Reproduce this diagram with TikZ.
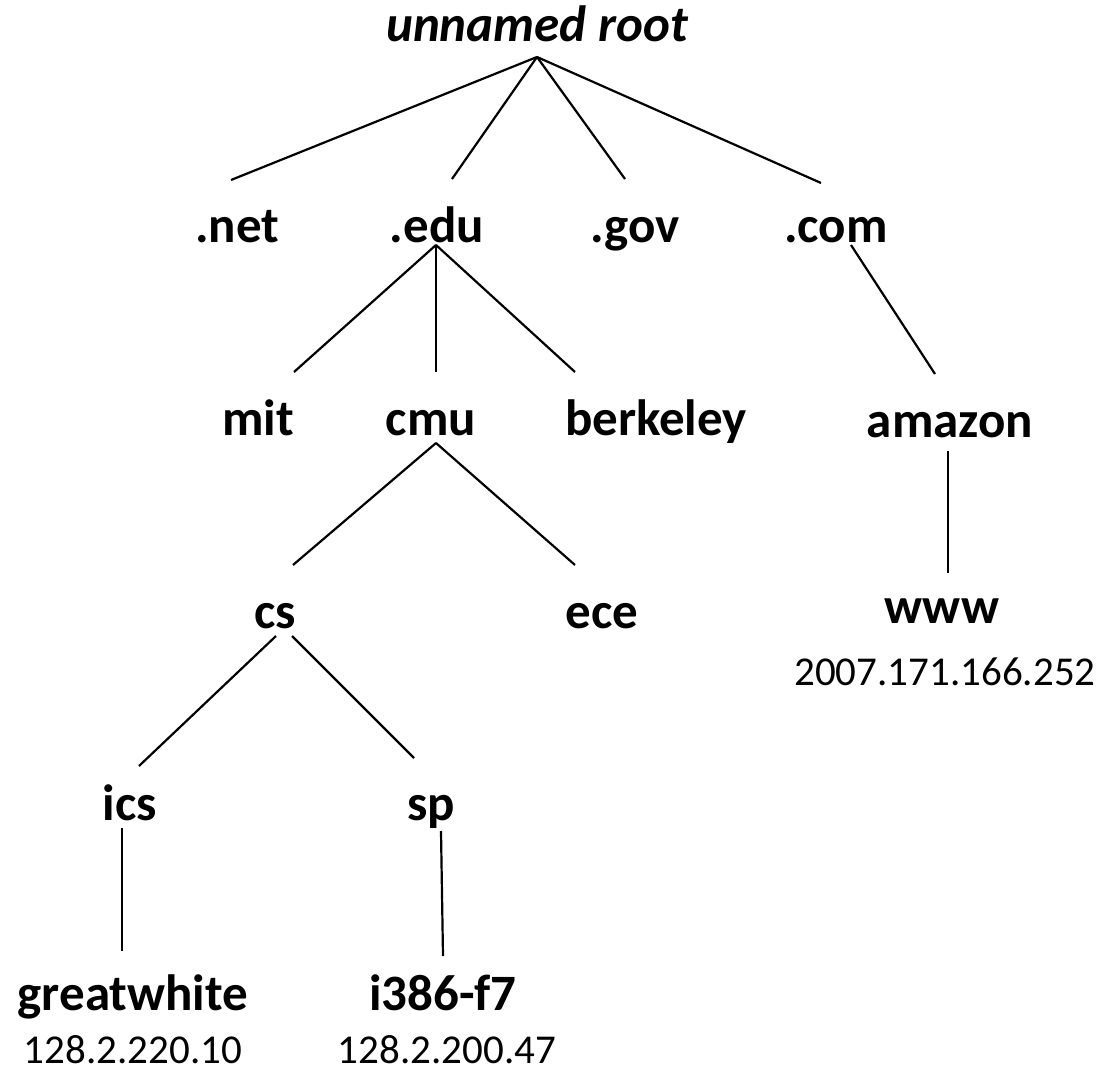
\documentclass[tikz,border=0pt]{standalone}
\usepackage{fontspec}
\setmainfont{Carlito}
\tikzset{
  lbl/.style={anchor=base, inner sep=0pt, font=\fontsize{51}{61}\selectfont\bfseries},
  rootlbl/.style={anchor=base, inner sep=0pt, font=\fontsize{51}{61}\selectfont\bfseries\itshape},
  iplbl/.style={anchor=base, inner sep=0pt, text depth=0pt, font=\fontsize{41}{49}\selectfont},
  treeline/.style={draw=black, line width=2.2pt}
}
\begin{document}
\begin{tikzpicture}[x=1pt,y=-1pt]
\useasboundingbox (0,0) rectangle (1104,1070);
\node[rootlbl] (root) at (537,42) {unnamed root};
\node[lbl] (net) at (237,242) {.net};
\node[lbl] (edu) at (437,242) {.edu};
\node[lbl] (gov) at (635,242) {.gov};
\node[lbl] (com) at (836,242) {.com};
\node[lbl] (mit) at (258,435) {mit};
\node[lbl] (cmu) at (431,435) {cmu};
\node[lbl] (berkeley) at (656,435) {berkeley};
\node[lbl] (amazon) at (950,437) {amazon};
\node[lbl] (cs) at (275,628) {cs};
\node[lbl] (ece) at (602,628) {ece};
\node[lbl] (www) at (942,623) {www};
\node[iplbl] (wwwip) at (945,685) {2007.171.166.252};
\node[lbl] (ics) at (130,820) {ics};
\node[lbl] (sp) at (431,820) {sp};
\node[lbl] (gw) at (133,1010) {greatwhite};
\node[iplbl] (gwip) at (133,1063) {128.2.220.10};
\node[lbl] (i386) at (443,1010) {i386-f7};
\node[iplbl] (i386ip) at (447,1063) {128.2.200.47};
\draw[treeline] ([shift={(0,15)}]root.base) -- ([shift={(-6,-62)}]net.base);
\draw[treeline] ([shift={(0,15)}]root.base) -- ([shift={(15,-63)}]edu.base);
\draw[treeline] ([shift={(0,15)}]root.base) -- ([shift={(-10,-63)}]gov.base);
\draw[treeline] ([shift={(0,15)}]root.base) -- ([shift={(-15,-59)}]com.base);
\draw[treeline] ([shift={(-1,3)}]edu.base) -- ([shift={(36,-63)}]mit.base);
\draw[treeline] ([shift={(-1,3)}]edu.base) -- ([shift={(5,-63)}]cmu.base);
\draw[treeline] ([shift={(-1,3)}]edu.base) -- ([shift={(-81,-63)}]berkeley.base);
\draw[treeline] ([shift={(15,3)}]com.base) -- ([shift={(-15,-63)}]amazon.base);
\draw[treeline] ([shift={(5,8)}]cmu.base) -- ([shift={(18,-63)}]cs.base);
\draw[treeline] ([shift={(5,8)}]cmu.base) -- ([shift={(-27,-63)}]ece.base);
\draw[treeline] ([shift={(-2,14)}]amazon.base) -- ([shift={(6,-50)}]www.base);
\draw[treeline] ([shift={(1,8)}]cs.base) -- ([shift={(9,-54)}]ics.base);
\draw[treeline] ([shift={(17,8)}]cs.base) -- ([shift={(-17,-62)}]sp.base);
\draw[treeline] ([shift={(-8,8)}]ics.base) -- ([shift={(-11,-59)}]gw.base);
\draw[treeline] ([shift={(10,11)}]sp.base) -- ([shift={(0,-54)}]i386.base);
\end{tikzpicture}
\end{document}
